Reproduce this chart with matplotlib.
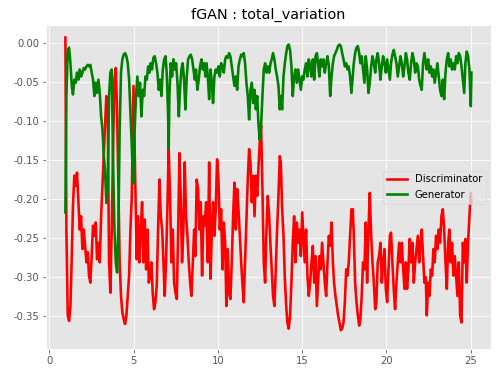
import matplotlib
matplotlib.use('Agg')
import matplotlib.pyplot as plt

# values (epoch, loss)
disc_x = [0.95, 1.01, 1.09, 1.17, 1.25, 1.33, 1.40, 1.48, 1.56, 1.64, 1.72, 1.80, 1.88, 1.96,
          2.04, 2.12, 2.20, 2.28, 2.35, 2.43, 2.51, 2.59, 2.67, 2.75, 2.83, 2.91, 2.99, 3.07,
          3.15, 3.23, 3.30, 3.38, 3.46, 3.54, 3.62, 3.70, 3.78, 3.86, 3.94, 4.02, 4.10, 4.17,
          4.25, 4.33, 4.41, 4.49, 4.57, 4.65, 4.73, 4.81, 4.89, 4.99, 5.10, 5.18, 5.26, 5.34,
          5.42, 5.50, 5.58, 5.66, 5.74, 5.82, 5.90, 5.97, 6.05, 6.13, 6.21, 6.29, 6.37, 6.45,
          6.53, 6.61, 6.69, 6.77, 6.84, 6.92, 7.00, 7.08, 7.16, 7.24, 7.32, 7.40, 7.48, 7.56,
          7.64, 7.72, 7.79, 7.87, 7.95, 8.03, 8.11, 8.19, 8.27, 8.35, 8.43, 8.51, 8.59, 8.66,
          8.74, 8.82, 8.90, 8.98, 9.06, 9.14, 9.22, 9.30, 9.40, 9.48, 9.56, 9.64, 9.71, 9.79,
          9.87, 9.95, 10.03, 10.11, 10.19, 10.27, 10.35, 10.43, 10.50, 10.58, 10.66, 10.74,
          10.82, 10.90, 10.98, 11.06, 11.14, 11.22, 11.30, 11.38, 11.45, 11.53, 11.61, 11.69,
          11.77, 11.85, 11.93, 12.01, 12.09, 12.17, 12.25, 12.33, 12.40, 12.48, 12.56, 12.64,
          12.72, 12.80, 12.88, 12.96, 13.04, 13.12, 13.19, 13.27, 13.35, 13.43, 13.51, 13.59,
          13.67, 13.73, 13.81, 13.89, 13.97, 14.05, 14.12, 14.20, 14.28, 14.36, 14.44, 14.52,
          14.60, 14.68, 14.76, 14.84, 14.92, 15.00, 15.07, 15.15, 15.23, 15.31, 15.39, 15.47,
          15.55, 15.63, 15.71, 15.79, 15.87, 15.94, 16.02, 16.10, 16.18, 16.26, 16.34, 16.42,
          16.50, 16.58, 16.66, 16.74, 16.82, 16.89, 16.97, 17.05, 17.13, 17.21, 17.29, 17.37,
          17.45, 17.53, 17.61, 17.69, 17.76, 17.84, 17.92, 18.00, 18.06, 18.14, 18.22, 18.30,
          18.38, 18.45, 18.53, 18.61, 18.69, 18.77, 18.85, 18.93, 19.01, 19.09, 19.17, 19.25,
          19.33, 19.40, 19.48, 19.56, 19.64, 19.72, 19.80, 19.88, 19.96, 20.04, 20.12, 20.20,
          20.27, 20.35, 20.43, 20.51, 20.59, 20.67, 20.75, 20.83, 20.91, 20.99, 21.07, 21.15,
          21.22, 21.30, 21.38, 21.46, 21.54, 21.62, 21.70, 21.78, 21.86, 21.94, 22.02, 22.09,
          22.17, 22.25, 22.33, 22.39, 22.47, 22.55, 22.63, 22.71, 22.78, 22.86, 22.94, 23.02,
          23.10, 23.18, 23.26, 23.34, 23.42, 23.50, 23.58, 23.66, 23.73, 23.81, 23.89, 23.97,
          24.05, 24.13, 24.21, 24.29, 24.37, 24.45, 24.53, 24.61, 24.68, 24.76, 24.84, 24.92,
          25.00, 25.04]
disc_y = [0.007, -0.240, -0.349, -0.356, -0.337, -0.273, -0.209, -0.170, -0.183, -0.166, -0.204,
          -0.239, -0.222, -0.264, -0.239, -0.260, -0.281, -0.268, -0.298, -0.307, -0.273, -0.234,
          -0.247, -0.230, -0.277, -0.256, -0.281, -0.222, -0.183, -0.145, -0.111, -0.068, -0.077,
          -0.281, -0.320, -0.239, -0.132, -0.047, -0.032, -0.089, -0.196, -0.281, -0.324, -0.345,
          -0.354, -0.360, -0.349, -0.324, -0.298, -0.239, -0.196, -0.055, -0.187, -0.277, -0.222,
          -0.281, -0.239, -0.204, -0.281, -0.226, -0.290, -0.239, -0.307, -0.298, -0.281, -0.320,
          -0.341, -0.332, -0.311, -0.239, -0.175, -0.222, -0.239, -0.281, -0.324, -0.281, -0.213,
          -0.136, -0.196, -0.281, -0.239, -0.307, -0.320, -0.328, -0.239, -0.141, -0.196, -0.281,
          -0.239, -0.153, -0.222, -0.247, -0.281, -0.307, -0.324, -0.281, -0.239, -0.273, -0.175,
          -0.187, -0.239, -0.204, -0.298, -0.222, -0.234, -0.204, -0.281, -0.153, -0.302, -0.239,
          -0.204, -0.247, -0.213, -0.149, -0.175, -0.239, -0.213, -0.290, -0.230, -0.256, -0.337,
          -0.264, -0.320, -0.328, -0.281, -0.222, -0.179, -0.239, -0.187, -0.213, -0.247, -0.281,
          -0.307, -0.332, -0.281, -0.230, -0.175, -0.136, -0.153, -0.204, -0.170, -0.222, -0.170,
          -0.196, -0.162, -0.128, -0.106, -0.187, -0.281, -0.307, -0.239, -0.196, -0.222, -0.260,
          -0.290, -0.324, -0.337, -0.290, -0.239, -0.196, -0.145, -0.153, -0.213, -0.247, -0.302,
          -0.337, -0.358, -0.366, -0.349, -0.307, -0.256, -0.222, -0.281, -0.230, -0.256, -0.239,
          -0.273, -0.217, -0.247, -0.281, -0.239, -0.298, -0.324, -0.307, -0.281, -0.260, -0.307,
          -0.273, -0.337, -0.307, -0.273, -0.290, -0.256, -0.281, -0.307, -0.324, -0.281, -0.247,
          -0.260, -0.230, -0.281, -0.307, -0.324, -0.337, -0.349, -0.358, -0.368, -0.366, -0.358,
          -0.332, -0.290, -0.298, -0.281, -0.247, -0.213, -0.213, -0.247, -0.307, -0.332, -0.349,
          -0.362, -0.354, -0.324, -0.281, -0.290, -0.230, -0.307, -0.239, -0.192, -0.247, -0.281,
          -0.307, -0.341, -0.332, -0.281, -0.273, -0.256, -0.307, -0.281, -0.264, -0.315, -0.332,
          -0.290, -0.247, -0.243, -0.281, -0.315, -0.341, -0.307, -0.281, -0.256, -0.281, -0.256,
          -0.290, -0.315, -0.281, -0.315, -0.290, -0.251, -0.281, -0.256, -0.307, -0.281, -0.264,
          -0.247, -0.281, -0.256, -0.239, -0.273, -0.307, -0.300, -0.349, -0.307, -0.324, -0.290,
          -0.298, -0.264, -0.281, -0.247, -0.264, -0.239, -0.256, -0.222, -0.213, -0.239, -0.281,
          -0.315, -0.256, -0.239, -0.281, -0.256, -0.298, -0.273, -0.298, -0.324, -0.281, -0.349,
          -0.358, -0.256, -0.281, -0.251, -0.307, -0.256, -0.222, -0.192, -0.204]

gen_x = [0.95, 1.01, 1.09, 1.17, 1.25, 1.33, 1.40, 1.48, 1.56, 1.64, 1.72, 1.80, 1.88, 1.96,
         2.04, 2.12, 2.20, 2.28, 2.35, 2.43, 2.51, 2.59, 2.67, 2.75, 2.83, 2.91, 2.99, 3.07,
         3.15, 3.23, 3.30, 3.38, 3.46, 3.54, 3.62, 3.70, 3.78, 3.86, 3.94, 4.02, 4.10, 4.17,
         4.25, 4.33, 4.41, 4.49, 4.57, 4.65, 4.73, 4.81, 4.89, 4.97, 5.06, 5.14, 5.22, 5.30,
         5.38, 5.46, 5.54, 5.62, 5.70, 5.78, 5.86, 5.94, 6.01, 6.09, 6.17, 6.25, 6.33, 6.41,
         6.49, 6.57, 6.65, 6.73, 6.81, 6.89, 6.96, 7.04, 7.08, 7.12, 7.20, 7.28, 7.36, 7.44,
         7.52, 7.60, 7.68, 7.75, 7.83, 7.91, 7.99, 8.07, 8.15, 8.23, 8.31, 8.39, 8.47, 8.55,
         8.63, 8.70, 8.78, 8.86, 8.94, 9.02, 9.10, 9.18, 9.26, 9.32, 9.40, 9.48, 9.56, 9.64,
         9.71, 9.79, 9.87, 9.95, 10.03, 10.11, 10.19, 10.27, 10.35, 10.43, 10.50, 10.58,
         10.66, 10.74, 10.82, 10.90, 10.98, 11.06, 11.14, 11.22, 11.30, 11.38, 11.45, 11.53,
         11.61, 11.69, 11.77, 11.85, 11.93, 12.01, 12.09, 12.17, 12.25, 12.33, 12.40, 12.48,
         12.56, 12.64, 12.72, 12.80, 12.88, 12.96, 13.04, 13.12, 13.19, 13.27, 13.35, 13.43,
         13.51, 13.59, 13.67, 13.73, 13.81, 13.89, 13.97, 14.05, 14.12, 14.20, 14.28, 14.36,
         14.44, 14.52, 14.60, 14.68, 14.76, 14.84, 14.92, 15.00, 15.07, 15.15, 15.23, 15.31,
         15.39, 15.47, 15.55, 15.63, 15.71, 15.79, 15.87, 15.94, 16.02, 16.10, 16.18, 16.26,
         16.34, 16.42, 16.50, 16.58, 16.66, 16.74, 16.82, 16.89, 16.97, 17.05, 17.13, 17.21,
         17.29, 17.37, 17.45, 17.53, 17.61, 17.69, 17.76, 17.84, 17.92, 18.00, 18.06, 18.14,
         18.22, 18.30, 18.38, 18.45, 18.53, 18.61, 18.69, 18.77, 18.85, 18.93, 19.01, 19.09,
         19.17, 19.25, 19.33, 19.40, 19.48, 19.56, 19.64, 19.72, 19.80, 19.88, 19.96, 20.04,
         20.12, 20.20, 20.27, 20.35, 20.43, 20.51, 20.59, 20.67, 20.75, 20.83, 20.91, 20.99,
         21.07, 21.15, 21.22, 21.30, 21.38, 21.46, 21.54, 21.62, 21.70, 21.78, 21.86, 21.94,
         22.02, 22.09, 22.17, 22.25, 22.33, 22.39, 22.47, 22.55, 22.63, 22.71, 22.78, 22.86,
         22.94, 23.02, 23.10, 23.18, 23.26, 23.34, 23.42, 23.50, 23.58, 23.66, 23.73, 23.81,
         23.89, 23.97, 24.05, 24.13, 24.21, 24.29, 24.37, 24.45, 24.53, 24.61, 24.68, 24.76,
         24.84, 24.92, 25.00, 25.04]
gen_y = [-0.217, -0.068, -0.009, -0.006, -0.026, -0.055, -0.066, -0.047, -0.051, -0.038, -0.047,
         -0.034, -0.043, -0.038, -0.032, -0.034, -0.030, -0.028, -0.030, -0.028, -0.038, -0.047,
         -0.068, -0.051, -0.064, -0.047, -0.064, -0.094, -0.111, -0.145, -0.162, -0.205, -0.187,
         -0.068, -0.038, -0.034, -0.153, -0.239, -0.281, -0.294, -0.230, -0.111, -0.038, -0.021,
         -0.015, -0.013, -0.017, -0.026, -0.047, -0.089, -0.132, -0.180, -0.111, -0.068, -0.043,
         -0.068, -0.051, -0.094, -0.060, -0.068, -0.043, -0.047, -0.030, -0.038, -0.026, -0.034,
         -0.019, -0.017, -0.026, -0.038, -0.060, -0.047, -0.068, -0.034, -0.021, -0.017, -0.038,
         -0.089, -0.135, -0.068, -0.026, -0.043, -0.021, -0.034, -0.026, -0.051, -0.094, -0.060,
         -0.034, -0.026, -0.047, -0.085, -0.043, -0.021, -0.017, -0.015, -0.021, -0.034, -0.047,
         -0.034, -0.060, -0.047, -0.030, -0.021, -0.034, -0.026, -0.043, -0.026, -0.043, -0.072,
         -0.034, -0.051, -0.077, -0.043, -0.034, -0.038, -0.030, -0.043, -0.026, -0.030, -0.038,
         -0.021, -0.017, -0.019, -0.013, -0.017, -0.030, -0.043, -0.055, -0.043, -0.060, -0.030,
         -0.021, -0.015, -0.017, -0.013, -0.026, -0.051, -0.068, -0.098, -0.060, -0.051, -0.077,
         -0.060, -0.085, -0.068, -0.102, -0.124, -0.106, -0.068, -0.034, -0.026, -0.038, -0.030,
         -0.038, -0.026, -0.021, -0.013, -0.021, -0.034, -0.043, -0.055, -0.085, -0.068, -0.085,
         -0.043, -0.026, -0.013, -0.004, -0.002, -0.009, -0.030, -0.068, -0.043, -0.034, -0.051,
         -0.034, -0.047, -0.060, -0.043, -0.047, -0.034, -0.026, -0.043, -0.021, -0.030, -0.043,
         -0.021, -0.047, -0.017, -0.013, -0.026, -0.043, -0.021, -0.030, -0.021, -0.038, -0.026,
         -0.017, -0.030, -0.068, -0.043, -0.026, -0.017, -0.013, -0.009, -0.004, -0.002, -0.004,
         -0.013, -0.021, -0.030, -0.026, -0.034, -0.030, -0.043, -0.064, -0.043, -0.026, -0.013,
         -0.006, -0.004, -0.013, -0.026, -0.017, -0.034, -0.051, -0.017, -0.034, -0.064, -0.051,
         -0.030, -0.017, -0.026, -0.038, -0.021, -0.013, -0.026, -0.047, -0.030, -0.017, -0.026,
         -0.038, -0.021, -0.034, -0.047, -0.026, -0.015, -0.009, -0.017, -0.026, -0.043, -0.030,
         -0.017, -0.026, -0.043, -0.030, -0.013, -0.021, -0.038, -0.047, -0.026, -0.013, -0.021,
         -0.038, -0.026, -0.030, -0.047, -0.055, -0.060, -0.026, -0.013, -0.026, -0.034, -0.021,
         -0.038, -0.030, -0.043, -0.034, -0.051, -0.038, -0.026, -0.043, -0.060, -0.068, -0.047,
         -0.072, -0.038, -0.021, -0.013, -0.030, -0.021, -0.034, -0.026, -0.034, -0.017, -0.026,
         -0.013, -0.017, -0.030, -0.047, -0.064, -0.026, -0.011, -0.017, -0.034, -0.081, -0.038]

plt.style.use('ggplot')

fig = plt.figure(figsize=(501 / 72, 374 / 72), dpi=72)
ax = fig.add_axes([46 / 501, 25 / 374, 445 / 501, 324 / 374])

ax.plot(disc_x, disc_y, color='red', linewidth=2.6, label='Discriminator')
ax.plot(gen_x, gen_y, color='green', linewidth=2.6, label='Generator')

ax.set_xlim(-0.2, 26.2)
ax.set_ylim(-0.392, 0.023)
ax.set_xticks([0, 5, 10, 15, 20, 25])
ax.set_yticks([0.0, -0.05, -0.10, -0.15, -0.20, -0.25, -0.30, -0.35])
ax.set_yticklabels(['0.00', '-0.05', '-0.10', '-0.15', '-0.20', '-0.25', '-0.30', '-0.35'])
ax.set_title('fGAN : total_variation', fontsize=14.4)
ax.legend(loc='center right')

fig.savefig('out.png', dpi=72)
